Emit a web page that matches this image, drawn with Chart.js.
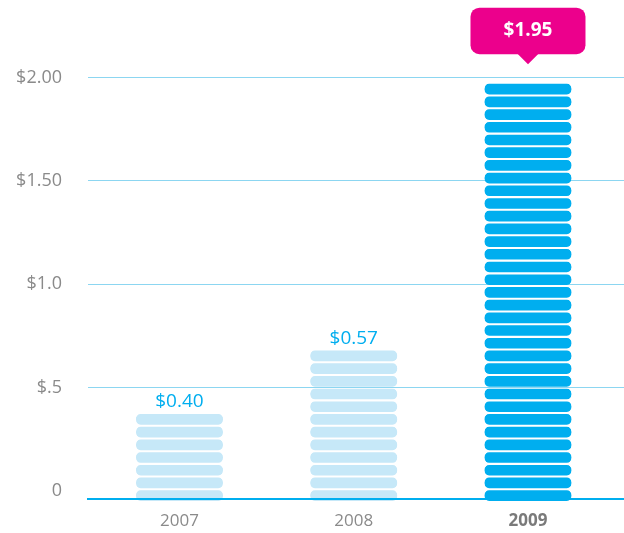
<!DOCTYPE html>
<html lang="en">
  <head>
    <meta charset="UTF-8" />
    <title>Dividend</title>
    <script src="https://cdn.jsdelivr.net/npm/chart.js"></script>
    <style>
      body {
        margin: 0;
        background-color: #ffffff;
      }

      #wrap {
        width: 624px;
        height: 533px;
      }
    </style>
  </head>
  <body>
    <div id="wrap"><canvas id="myChart"></canvas></div>

    <script>
      var years = ['2007', '2008', '2009'];
      var valueLabels = ['$0.40', '$0.57', '$1.95'];
      var pillCounts = [7, 12, 33]; // 每根柱子的橢圓條數
      var yTickValues = [0, 0.5, 1.0, 1.5, 2.0];
      var yTickLabels = ['0', '$.5', '$1.0', '$1.50', '$2.00'];
      var pillStep = 0.0615;
      var pillBase = -0.0545;

      var fontFamily = "'Open Sans', sans-serif";
      var lightBlue = '#c6e8f8';
      var strongBlue = '#00aeef';
      var magenta = '#ec008c';

      // 每一層橢圓條是一個 dataset
      var datasets = [];
      var maxPills = Math.max.apply(null, pillCounts);
      for (var k = 0; k < maxPills; k++) {
        var data = [];
        for (var i = 0; i < years.length; i++) {
          if (k < pillCounts[i]) {
            data.push({ x: i, y: [pillBase + k * pillStep, pillBase + (k + 1) * pillStep] });
          }
        }
        datasets.push({
          data: data,
          backgroundColor: function (ctx) {
            return ctx.raw && ctx.raw.x === 2 ? strongBlue : lightBlue;
          },
          borderColor: 'rgba(0,0,0,0)',
          borderWidth: { top: 1.36, bottom: 1.36, left: 0, right: 0 },
          borderRadius: 20,
          borderSkipped: false,
          barThickness: 87,
          grouped: false,
          clip: false
        });
      }

      var labelPlugin = {
        id: 'valueLabels',
        afterDatasetsDraw: function (chart) {
          var ctx = chart.ctx;
          var xs = chart.scales.x;
          var ys = chart.scales.y;
          ctx.save();
          for (var i = 0; i < years.length; i++) {
            var cx = xs.getPixelForValue(i);
            var top = ys.getPixelForValue(pillBase + pillCounts[i] * pillStep) + 1.36;
            ctx.textAlign = 'center';
            if (i < 2) {
              ctx.fillStyle = strongBlue;
              ctx.font = '19px ' + fontFamily;
              ctx.textBaseline = 'alphabetic';
              ctx.fillText(valueLabels[i], cx, top - 7);
            } else {
              // 品紅色提示框
              var w = 115, h = 46.5, r = 9;
              var bx = cx - w / 2;
              var by = top - 30 - h;
              ctx.fillStyle = magenta;
              ctx.beginPath();
              ctx.roundRect(bx, by, w, h, r);
              ctx.fill();
              ctx.beginPath();
              ctx.moveTo(cx - 11, by + h - 1);
              ctx.lineTo(cx + 11, by + h - 1);
              ctx.lineTo(cx, top - 20);
              ctx.closePath();
              ctx.fill();
              ctx.fillStyle = '#ffffff';
              ctx.font = 'bold 19px ' + fontFamily;
              ctx.textBaseline = 'middle';
              ctx.fillText(valueLabels[i], cx, by + h / 2);
            }
          }
          ctx.restore();
        }
      };

      var ctx = document.getElementById('myChart').getContext('2d');
      var myChart = new Chart(ctx, {
        type: 'bar',
        data: { datasets: datasets },
        plugins: [labelPlugin],
        options: {
          responsive: true,
          maintainAspectRatio: false,
          animation: false,
          layout: { padding: 0 },
          plugins: {
            legend: { display: false },
            tooltip: { enabled: false }
          },
          scales: {
            x: {
              type: 'linear',
              offset: false,
              min: -0.525,
              max: 2.551,
              afterBuildTicks: function (s) {
                s.ticks = years.map(function (_, i) { return { value: i }; });
              },
              afterFit: function (s) {
                s.height = 34;
                s.paddingLeft = 0;
                s.paddingRight = 0;
              },
              grid: { display: false, drawTicks: false, offset: false },
              border: { display: true, color: strongBlue, width: 2, z: 1 },
              ticks: {
                autoSkip: false,
                maxRotation: 0,
                padding: 12,
                callback: function (v) { return years[v]; },
                color: function (c) { return c.index === 2 ? '#7a7a7a' : '#8a8a8a'; },
                font: function (c) {
                  return { family: fontFamily, size: 17, weight: c.index === 2 ? 'bold' : 'normal' };
                }
              }
            },
            y: {
              min: -0.04,
              max: 2.376,
              afterBuildTicks: function (s) {
                s.ticks = yTickValues.map(function (v) { return { value: v }; });
              },
              afterFit: function (s) {
                s.width = 88;
                s.paddingTop = 0;
                s.paddingBottom = 0;
              },
              grid: {
                drawTicks: false,
                lineWidth: 1,
                color: function (c) {
                  return c.tick && c.tick.value === 0 ? 'rgba(0,0,0,0)' : '#8cd6f1';
                }
              },
              border: { display: false },
              ticks: {
                padding: 26,
                color: '#8a8a8a',
                font: { family: fontFamily, size: 18 },
                callback: function (v, index) { return yTickLabels[index]; }
              }
            }
          }
        }
      });
    </script>
  </body>
</html>
